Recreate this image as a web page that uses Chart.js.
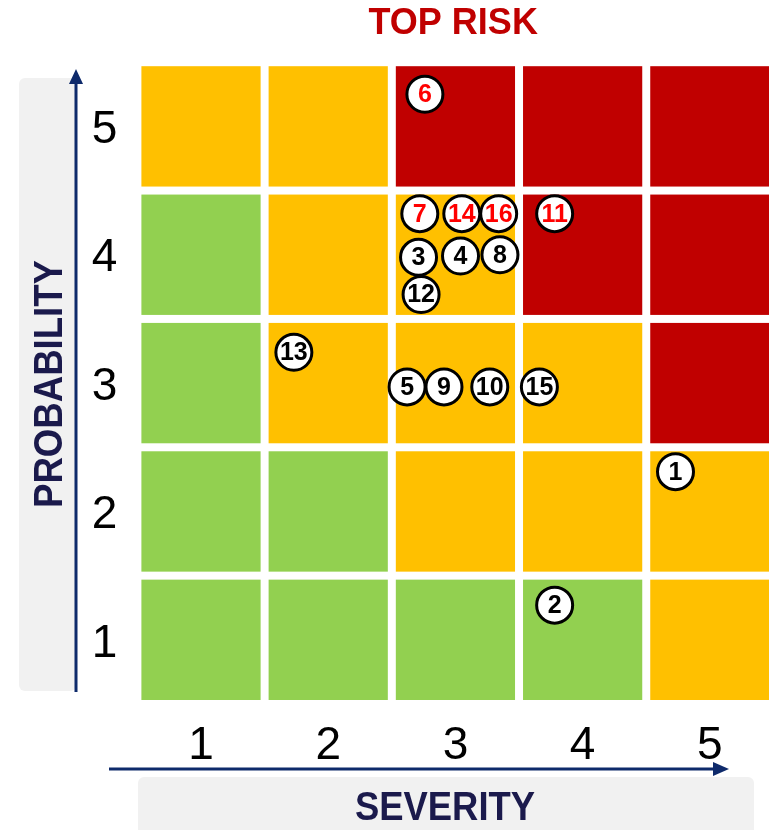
<!DOCTYPE html>
<html>
<head>
<meta charset="utf-8">
<title>Risk matrix</title>
<script src="https://cdn.jsdelivr.net/npm/chart.js@4.4.1/dist/chart.umd.min.js"></script>
<style>
    html, body { margin: 0; padding: 0; background: #fff; }
    canvas { display: block; }
</style>
</head>
<body>
<canvas id="riskChart" width="769" height="830"></canvas>
<script>
// tick labels of both axes
const severityTicks = [1, 2, 3, 4, 5];
const probabilityTicks = [1, 2, 3, 4, 5];

// risk level of each cell: rows = probability 1..5 (bottom to top), columns = severity 1..5
const riskLevels = [
    ['low', 'low', 'low', 'low', 'medium'],
    ['low', 'low', 'medium', 'medium', 'medium'],
    ['low', 'medium', 'medium', 'medium', 'high'],
    ['low', 'medium', 'medium', 'high', 'high'],
    ['medium', 'medium', 'high', 'high', 'high']
];

// risks placed in the matrix (position inside the cell)
const riskIds = [1, 2, 3, 4, 5, 6, 7, 8, 9, 10, 11, 12, 13, 14, 15, 16];
const riskSeverity = [4.73, 3.78, 2.71, 3.04, 2.62, 2.76, 2.72, 3.35, 2.91, 3.27, 3.78, 2.73, 1.73, 3.05, 3.66, 3.34];
const riskProbability = [2.31, 1.27, 3.98, 3.99, 2.97, 5.25, 4.32, 4.00, 2.97, 2.97, 4.32, 3.69, 3.24, 4.32, 2.97, 4.32];
const topRiskIds = [6, 7, 11, 14, 16];

const levelColors = {
    low: '#92D050',
    medium: '#FFC000',
    high: '#C00000'
};
const FONT = '"Liberation Sans", Arial, Helvetica, sans-serif';
const NAVY = '#0E2A6B';
const CELL_GAP = 8;

const points = riskIds.map((id, i) => ({ x: riskSeverity[i], y: riskProbability[i], id: id }));

// coloured cells behind the risk markers
const cellsPlugin = {
    id: 'cells',
    beforeDatasetsDraw(chart) {
        const { ctx, scales: { x, y } } = chart;
        ctx.save();
        riskLevels.forEach((row, r) => {
            row.forEach((level, c) => {
                const sev = severityTicks[c];
                const prob = probabilityTicks[r];
                const left = x.getPixelForValue(sev - 0.5) + CELL_GAP / 2;
                const right = x.getPixelForValue(sev + 0.5) - CELL_GAP / 2;
                const top = y.getPixelForValue(prob + 0.5) + CELL_GAP / 2;
                const bottom = y.getPixelForValue(prob - 0.5) - CELL_GAP / 2;
                ctx.fillStyle = levelColors[level];
                ctx.fillRect(left, top, right - left, bottom - top);
            });
        });
        ctx.restore();
    }
};

// numbers inside the circles
const riskLabelsPlugin = {
    id: 'riskLabels',
    afterDatasetsDraw(chart) {
        const { ctx } = chart;
        const meta = chart.getDatasetMeta(0);
        ctx.save();
        ctx.font = 'bold 25px ' + FONT;
        ctx.textAlign = 'center';
        ctx.textBaseline = 'middle';
        meta.data.forEach((el, i) => {
            const id = points[i].id;
            ctx.fillStyle = topRiskIds.includes(id) ? '#FF0000' : '#000000';
            ctx.fillText(String(id), el.x, el.y + 1, 32);
        });
        ctx.restore();
    }
};

// grey axis boxes, arrows and axis titles
const axisDecorPlugin = {
    id: 'axisDecor',
    beforeDraw(chart) {
        const { ctx } = chart;
        ctx.save();
        ctx.fillStyle = '#F1F1F1';
        ctx.beginPath();
        ctx.roundRect(19, 78, 57, 613, 6);
        ctx.fill();
        ctx.beginPath();
        ctx.roundRect(138, 777, 616, 60, 6);
        ctx.fill();

        // arrows
        ctx.strokeStyle = NAVY;
        ctx.fillStyle = NAVY;
        ctx.lineWidth = 3;
        ctx.beginPath();
        ctx.moveTo(76, 692);
        ctx.lineTo(76, 82);
        ctx.stroke();
        ctx.beginPath();
        ctx.moveTo(76, 69);
        ctx.lineTo(69, 84);
        ctx.lineTo(83, 84);
        ctx.closePath();
        ctx.fill();

        ctx.beginPath();
        ctx.moveTo(109, 769);
        ctx.lineTo(716, 769);
        ctx.stroke();
        ctx.beginPath();
        ctx.moveTo(729, 769);
        ctx.lineTo(713, 762);
        ctx.lineTo(713, 776);
        ctx.closePath();
        ctx.fill();

        // axis titles
        ctx.fillStyle = '#1B1A4C';
        ctx.font = 'bold 40px ' + FONT;
        ctx.textAlign = 'center';
        ctx.textBaseline = 'alphabetic';
        ctx.fillText('SEVERITY', 445, 820, 180);
        ctx.translate(62, 384);
        ctx.rotate(-Math.PI / 2);
        ctx.fillText('PROBABILITY', 0, 0, 248);
        ctx.restore();
    }
};

new Chart(document.getElementById('riskChart'), {
    type: 'scatter',
    data: {
        datasets: [{
            data: points,
            pointRadius: 18,
            pointHoverRadius: 18,
            borderWidth: 3,
            borderColor: '#000000',
            backgroundColor: '#FFFFFF'
        }]
    },
    options: {
        responsive: false,
        animation: false,
        events: [],
        layout: { padding: 0, autoPadding: false },
        plugins: {
            legend: { display: false },
            tooltip: { enabled: false },
            title: {
                display: true,
                text: 'TOP RISK',
                color: '#C00000',
                fullSize: false,
                font: { size: 36, weight: 'bold', family: FONT },
                padding: { top: 2, bottom: 17 }
            }
        },
        scales: {
            x: {
                type: 'linear',
                position: 'bottom',
                min: 0.5,
                max: 5.465,
                grid: { display: false, drawTicks: false },
                border: { display: false },
                ticks: {
                    color: '#000000',
                    font: { size: 46, family: FONT },
                    padding: 15,
                    maxRotation: 0,
                    autoSkip: false
                },
                afterBuildTicks(scale) {
                    scale.ticks = severityTicks.map(v => ({ value: v }));
                },
                afterFit(scale) {
                    scale.height = 126;
                    // keep the last tick label from shrinking the plot area
                    scale.paddingLeft = 0;
                    scale.paddingRight = 0;
                }
            },
            y: {
                type: 'linear',
                min: 0.5,
                max: 5.5,
                grid: { display: false, drawTicks: false },
                border: { display: false },
                ticks: {
                    color: '#000000',
                    font: { size: 46, family: FONT },
                    padding: 20,
                    labelOffset: 4,
                    autoSkip: false
                },
                afterBuildTicks(scale) {
                    scale.ticks = probabilityTicks.map(v => ({ value: v }));
                },
                afterFit(scale) {
                    scale.width = 137.4;
                    scale.paddingTop = 0;
                    scale.paddingBottom = 0;
                }
            }
        }
    },
    plugins: [axisDecorPlugin, cellsPlugin, riskLabelsPlugin]
});
</script>
</body>
</html>
